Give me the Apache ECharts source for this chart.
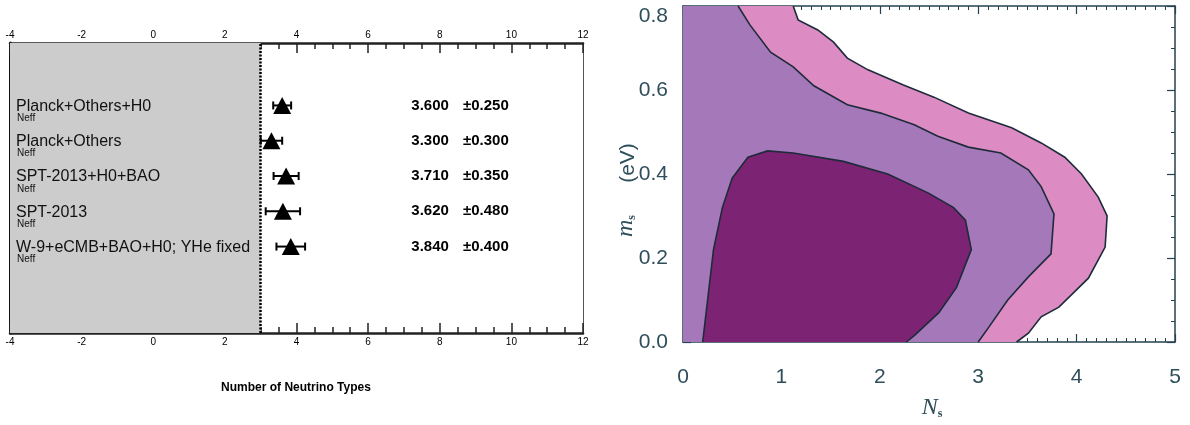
<!DOCTYPE html>
<html><head><meta charset="utf-8">
<script src="https://cdn.jsdelivr.net/npm/echarts@6/dist/echarts.min.js"></script>
<style>html,body{margin:0;padding:0;background:#fff}#c{width:1190px;height:425px}</style>
</head><body><div id="c"></div><script>
// ---------- data ----------
const rowLabels = ['Planck+Others+H0', 'Planck+Others', 'SPT-2013+H0+BAO', 'SPT-2013', 'W-9+eCMB+BAO+H0; YHe fixed'];
const rowSubLabel = 'Neff';
const neffValues = [3.60, 3.30, 3.71, 3.62, 3.84];
const neffErrors = [0.25, 0.30, 0.35, 0.48, 0.40];
const leftAxisRange = [-4, 12];
const excludedBelow = 3;
const leftTitle = 'Number of Neutrino Types';
// contour boundaries (Ns, ms)
const contourOuter = [[1.12,0.8],[1.17,0.767],[1.37,0.743],[1.53,0.714],[1.67,0.676],[1.88,0.648],[2.24,0.612],[2.55,0.583],[2.9,0.545],[3.34,0.51],[3.64,0.474],[3.88,0.44],[4.05,0.40],[4.22,0.345],[4.31,0.30],[4.29,0.226],[4.12,0.152],[3.82,0.083],[3.64,0.06],[3.51,0.021],[3.39,0]];
const contourMiddle = [[0.56,0.8],[0.68,0.755],[0.89,0.69],[1.12,0.655],[1.33,0.61],[1.67,0.565],[2.01,0.545],[2.35,0.517],[2.59,0.49],[2.9,0.464],[3.23,0.45],[3.51,0.41],[3.64,0.37],[3.77,0.305],[3.74,0.21],[3.51,0.155],[3.3,0.1],[3.11,0.036],[3.0,0]];
const contourInner = [[0.2,0],[0.31,0.22],[0.40,0.32],[0.5,0.39],[0.66,0.44],[0.86,0.455],[1.12,0.45],[1.63,0.43],[2.08,0.40],[2.49,0.355],[2.75,0.32],[2.87,0.29],[2.93,0.22],[2.78,0.13],[2.6,0.07],[2.35,0.015],[2.27,0]];
const rightXRange = [0, 5];
const rightYRange = [0, 0.8];

// ---------- styles ----------
const contourFills = ['#dc8cc3', '#a578b9', '#7d2373'];
const contourLine = '#1d2b3a';
const rAxisColor = '#24414f';
const rLabelColor = '#2f4e5c';

const nRows = rowLabels.length;
const rowY = i => nRows - 1 - i;
const errData = neffValues.map((v, i) => [v, rowY(i), neffErrors[i]]);
const ptData = neffValues.map((v, i) => [v, rowY(i)]);
const labelData = rowLabels.map((l, i) => [leftAxisRange[0], rowY(i), i]);
const valueTextData = neffValues.map((v, i) => [v, rowY(i), i]);

const polyOuter = [[0, rightYRange[1]]].concat(contourOuter, [[0, 0]]);
const polyMiddle = [[0, rightYRange[1]]].concat(contourMiddle, [[0, 0]]);
const polyInner = contourInner.slice();
const contours = [[polyOuter, contourOuter], [polyMiddle, contourMiddle], [polyInner, contourInner]];

const chart = echarts.init(document.getElementById('c'), null, {renderer: 'canvas'});
const leftAxisCommon = {
  type: 'value', gridIndex: 0, min: leftAxisRange[0], max: leftAxisRange[1], interval: 2,
  splitLine: {show: false},
  axisLine: {onZero: false, lineStyle: {color: '#222', width: 2.5}},
  axisTick: {inside: true, length: 10, lineStyle: {color: '#222', width: 1.5}},
  minorTick: {show: true, splitNumber: 4, length: 6, lineStyle: {color: '#222', width: 1.5}},
  axisLabel: {color: '#000', fontSize: 10, fontFamily: 'Liberation Sans, Arial', margin: 4}
};
const rightXCommon = {
  type: 'value', gridIndex: 1, min: rightXRange[0], max: rightXRange[1], interval: 1,
  splitLine: {show: false},
  axisLine: {onZero: false, lineStyle: {color: rAxisColor, width: 1.5}},
  axisTick: {inside: true, length: 8, lineStyle: {color: rAxisColor, width: 1.2}},
  minorTick: {show: true, splitNumber: 10, length: 4, lineStyle: {color: rAxisColor, width: 1}},
  axisLabel: {color: rLabelColor, fontSize: 21, fontFamily: 'Liberation Sans, Arial', margin: 25}
};
const rightYCommon = {
  type: 'value', gridIndex: 1, min: rightYRange[0], max: rightYRange[1], interval: 0.2,
  splitLine: {show: false},
  axisLine: {onZero: false, lineStyle: {color: rAxisColor, width: 1.5}},
  axisTick: {inside: true, length: 8, lineStyle: {color: rAxisColor, width: 1.2}},
  minorTick: {show: true, splitNumber: 4, length: 4, lineStyle: {color: rAxisColor, width: 1}},
  axisLabel: {color: rLabelColor, fontSize: 21, fontFamily: 'Liberation Sans, Arial', margin: 15,
    verticalAlignMaxLabel: 'top', formatter: v => v.toFixed(1)}
};

chart.setOption({
  animation: false,
  backgroundColor: '#fff',
  grid: [
    {left: 10, top: 43, width: 573, height: 290},
    {left: 683, top: 6, width: 492, height: 336}
  ],
  xAxis: [
    Object.assign({}, leftAxisCommon, {position: 'bottom'}),
    Object.assign({}, leftAxisCommon, {position: 'top', axisLabel: Object.assign({}, leftAxisCommon.axisLabel, {margin: 3})}),
    Object.assign({}, rightXCommon, {position: 'bottom'}),
    Object.assign({}, rightXCommon, {position: 'top', axisLabel: {show: false}})
  ],
  yAxis: [
    {type: 'value', gridIndex: 0, min: -2.45, max: 5.77, position: 'left', splitLine: {show: false},
      axisLine: {show: true, onZero: false, lineStyle: {color: '#111', width: 3}}, axisTick: {show: false}, axisLabel: {show: false}},
    {type: 'value', gridIndex: 0, min: -2.45, max: 5.77, position: 'right', splitLine: {show: false},
      axisLine: {show: true, onZero: false, lineStyle: {color: '#555', width: 1}}, axisTick: {show: false}, axisLabel: {show: false}},
    Object.assign({}, rightYCommon, {position: 'left'}),
    Object.assign({}, rightYCommon, {position: 'right', axisLabel: {show: false}})
  ],
  graphic: [
    {type: 'text', x: 296, y: 388, style: {text: leftTitle, font: 'bold 12px "Liberation Sans", Arial', fill: '#000', align: 'center', verticalAlign: 'middle'}},
    {type: 'text', x: 628, y: 163, rotation: Math.PI / 2,
      style: {text: '(eV)', font: '21px "Liberation Sans", Arial', fill: rLabelColor, align: 'center', verticalAlign: 'middle'}},
    {type: 'text', x: 626, y: 226, rotation: Math.PI / 2,
      style: {text: '{m|m}{s|s}', align: 'center', verticalAlign: 'middle',
        rich: {m: {font: 'italic 24px "Liberation Serif", serif', fill: rLabelColor},
               s: {font: 'bold 12px "Liberation Serif", serif', fill: rLabelColor, padding: [12, 0, 0, 0]}}}},
    {type: 'text', x: 932, y: 408,
      style: {text: '{n|N}{s|s}', align: 'center', verticalAlign: 'middle',
        rich: {n: {font: 'italic 24px "Liberation Serif", serif', fill: rLabelColor},
               s: {font: 'bold 12px "Liberation Serif", serif', fill: rLabelColor, padding: [12, 0, 0, 0]}}}}
  ],
  series: [
    { // excluded region and dotted limit
      type: 'scatter', xAxisIndex: 0, yAxisIndex: 0, data: [], silent: true,
      markArea: {silent: true, itemStyle: {color: '#cccccc'}, data: [[{xAxis: leftAxisRange[0]}, {xAxis: excludedBelow}]]},
      markLine: {silent: true, symbol: 'none', label: {show: false},
        lineStyle: {color: '#000', type: [2, 1.5], width: 2.5}, data: [{xAxis: excludedBelow}]}
    },
    { // error bars
      type: 'custom', xAxisIndex: 0, yAxisIndex: 0, data: errData, z: 3,
      renderItem: (params, api) => {
        const x = api.value(0), y = api.value(1), e = api.value(2);
        const a = api.coord([x - e, y]), b = api.coord([x + e, y]);
        const st = {stroke: '#000', lineWidth: 2};
        return {type: 'group', children: [
          {type: 'line', shape: {x1: a[0], y1: a[1], x2: b[0], y2: b[1]}, style: st},
          {type: 'line', shape: {x1: a[0], y1: a[1] - 4, x2: a[0], y2: a[1] + 4}, style: st},
          {type: 'line', shape: {x1: b[0], y1: b[1] - 4, x2: b[0], y2: b[1] + 4}, style: st}
        ]};
      }
    },
    { // central values
      type: 'scatter', xAxisIndex: 0, yAxisIndex: 0, data: ptData, z: 4,
      symbol: 'triangle', symbolSize: [18, 17], itemStyle: {color: '#000', opacity: 1}
    },
    { // row labels
      type: 'custom', xAxisIndex: 0, yAxisIndex: 0, data: labelData, z: 5, silent: true,
      renderItem: (params, api) => {
        const p = api.coord([api.value(0), api.value(1)]);
        const i = api.value(2);
        return {type: 'group', children: [
          {type: 'text', x: p[0] + 6, y: p[1] + 1, style: {text: rowLabels[i], font: '16px "Liberation Sans", Arial', fill: '#111', align: 'left', verticalAlign: 'middle'}},
          {type: 'text', x: p[0] + 7, y: p[1] + 13, style: {text: rowSubLabel, font: '10px "Liberation Sans", Arial', fill: '#111', align: 'left', verticalAlign: 'middle'}}
        ]};
      }
    },
    { // value texts
      type: 'custom', xAxisIndex: 0, yAxisIndex: 0, data: valueTextData, z: 5, silent: true,
      renderItem: (params, api) => {
        const i = api.value(2);
        const p1 = api.coord([7.73, api.value(1)]);
        const p2 = api.coord([8.65, api.value(1)]);
        return {type: 'group', children: [
          {type: 'text', x: p1[0], y: p1[1], style: {text: neffValues[i].toFixed(3), font: 'bold 15px "Liberation Sans", Arial', fill: '#000', align: 'center', verticalAlign: 'middle'}},
          {type: 'text', x: p2[0], y: p2[1], style: {text: '\u00b1' + neffErrors[i].toFixed(3), font: 'bold 15px "Liberation Sans", Arial', fill: '#000', align: 'left', verticalAlign: 'middle'}}
        ]};
      }
    },
    { // contours
      type: 'custom', xAxisIndex: 2, yAxisIndex: 2, data: [0, 1, 2], z: 2, silent: true,
      renderItem: (params, api) => {
        const k = params.dataIndex;
        const poly = contours[k][0].map(pt => api.coord(pt));
        const line = contours[k][1].map(pt => api.coord(pt));
        return {type: 'group', children: [
          {type: 'polygon', shape: {points: poly}, style: {fill: contourFills[k], stroke: null}},
          {type: 'polyline', shape: {points: line}, style: {fill: null, stroke: contourLine, lineWidth: 1.6}}
        ]};
      }
    }
  ]
});
</script></body></html>
